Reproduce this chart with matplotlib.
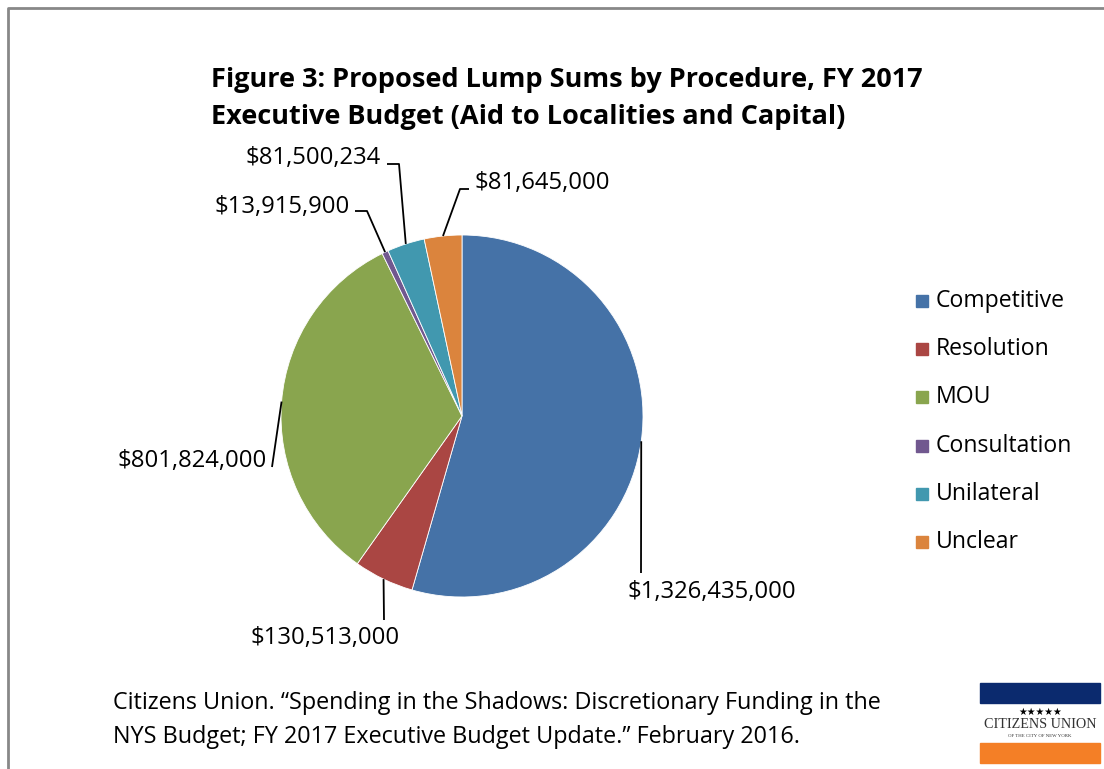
import numpy as np
import matplotlib
matplotlib.use("Agg")
import matplotlib.pyplot as plt
from matplotlib.patches import Rectangle

W, H = 1104, 769

categories = ["Competitive", "Resolution", "MOU", "Consultation", "Unilateral", "Unclear"]
amounts = [1326435000, 130513000, 801824000, 13915900, 81500234, 81645000]
colors = ["#4572A7", "#AA4643", "#89A54E", "#71588F", "#4198AF", "#DB843D"]

title_lines = ["Figure 3: Proposed Lump Sums by Procedure, FY 2017",
               "Executive Budget (Aid to Localities and Capital)"]
source_lines = ["Citizens Union. \u201cSpending in the Shadows: Discretionary Funding in the",
                "NYS Budget; FY 2017 Executive Budget Update.\u201d February 2016."]

# label placement, pixels from top-left: text x, text y, ha, leader points after the wedge edge
label_pos = [
    (712, 592, "center", [(641, 573)]),
    (325, 638, "center", [(384, 620)]),
    (267, 461, "right", [(272, 467)]),
    (350, 207, "right", [(367, 211), (355, 211)]),
    (381, 158, "right", [(399, 164), (387, 164)]),
    (475, 183, "left", [(460, 189), (469, 189)]),
]

plt.rcParams['font.family'] = ['Open Sans', 'DejaVu Sans']

fig = plt.figure(figsize=(W / 100, H / 100), dpi=100)
ax = fig.add_axes([0, 0, 1, 1])

cx, cy, r = 462, H - 416, 181
wedges, _ = ax.pie(amounts, colors=colors, startangle=90, counterclock=False,
                   center=(cx, cy), radius=r,
                   wedgeprops=dict(linewidth=0.6, edgecolor="white"))

# data labels with leader lines
for w, val, (tx, ty, ha, pts) in zip(wedges, amounts, label_pos):
    ang = np.deg2rad((w.theta1 + w.theta2) / 2)
    xs = [cx + r * np.cos(ang)] + [p[0] for p in pts]
    ys = [cy + r * np.sin(ang)] + [H - p[1] for p in pts]
    ax.plot(xs, ys, color="black", lw=1.3, solid_capstyle="butt")
    ax.text(tx, H - ty, "${:,}".format(val), ha=ha, va="center", fontsize=17.2)

# legend, drawn by hand to match the spacing
for i, (cat, col) in enumerate(zip(categories, colors)):
    yy = H - (301 + 48.2 * i)
    ax.add_patch(Rectangle((916, yy - 6), 12, 12, color=col))
    ax.text(936, yy, cat, fontsize=16.6, ha="left", va="center")

for i, line in enumerate(title_lines):
    ax.text(211, H - (80 + 37 * i), line, fontsize=19.5, fontweight="bold",
            ha="left", va="center")

for i, line in enumerate(source_lines):
    ax.text(113, H - (703 + 34 * i), line, fontsize=16.8, ha="left", va="center")

# outer frame
ax.plot([8, 8, W + 5], [-5, H - 8, H - 8], color="#888888", lw=2)

# logo
ax.add_patch(Rectangle((980, H - 703), 120, 20, color="#0B2A6E"))
ax.add_patch(Rectangle((980, H - 763), 120, 20, color="#F47F26"))
ax.text(1040, H - 712, "\u2605\u2605\u2605\u2605\u2605", fontsize=7, ha="center",
        va="center", family="DejaVu Sans")
ax.text(1040, H - 725, "CITIZENS UNION", fontsize=10.2, ha="center", va="center",
        family="Liberation Serif", color="#333333")
ax.text(1040, H - 736, "OF THE CITY OF NEW YORK", fontsize=3.5, ha="center",
        va="center", family="Liberation Serif", color="#333333")

ax.set_xlim(0, W)
ax.set_ylim(0, H)
ax.axis("off")

fig.savefig("out.png", dpi=100)
